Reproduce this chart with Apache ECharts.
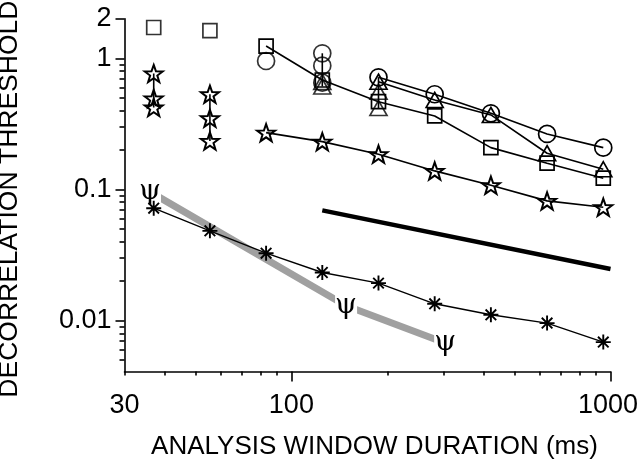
<!DOCTYPE html>
<html><head><meta charset="utf-8">
<script src="https://cdn.jsdelivr.net/npm/echarts@6/dist/echarts.min.js"></script>
<style>html,body{margin:0;padding:0;background:#fff}#c{width:640px;height:465px}</style>
</head><body><div id="c"></div>
<script>
// ---- data ----
const durations = [37.04, 55.56, 83.33, 125, 187.5, 281.25, 421.88, 632.81, 949.22];
const squaresSingleX = [37.04, 55.56];
const squaresSingleY = [1.717, 1.623];
const squaresLine = [1.24, 0.683, 0.467, 0.3636, 0.2085, 0.1586, 0.1219];      // 83 .. 949 ms
const circleCol3 = [0.954];
const circlesCol4 = [1.092, 0.878, 0.652];
const circlesLine = [0.7166, 0.532, 0.381, 0.265, 0.2085];                     // 187.5 .. 949 ms
const trianglesCol4 = [0.66, 0.61];
const trianglesCol5 = [0.5566, 0.418];
const trianglesLine = [0.663, 0.4814, 0.370, 0.189, 0.1427];                   // 187.5 .. 949 ms
const starsCol1 = [0.766, 0.494, 0.422];
const starsCol2 = [0.532, 0.349, 0.2345];
const starsLine = [0.2713, 0.2316, 0.1857, 0.1386, 0.1079, 0.0819, 0.0733];    // 83 .. 949 ms
const asterisks = [0.0720, 0.0484, 0.0327, 0.0233, 0.01934, 0.01345, 0.01109, 0.00959, 0.00687];
const psiX = [36.06, 148.4, 303.3];
const psiY = [0.0959, 0.01299, 0.00675];
const refLineX = [125, 1000];
const refLineY = [0.0693, 0.0248];
const xLabels = [30, 100, 1000];
const xMajorTicks = [100, 1000];
const xMinorTicks = [30, 40, 50, 60, 70, 80, 90, 200, 300, 400, 500, 600, 700, 800, 900];
const yLabels = [0.01, 0.1, 1, 2];
const yMajorTicks = [0.01, 0.1, 1, 2];
const yMinorTicks = [0.005, 0.006, 0.007, 0.008, 0.009, 0.02, 0.03, 0.04, 0.05, 0.06, 0.07, 0.08, 0.09,
                     0.2, 0.3, 0.4, 0.5, 0.6, 0.7, 0.8, 0.9];

// ---- helpers ----
const zip = (xs, ys) => xs.map((x, i) => [x, ys[i]]);
const at = (x, ys) => ys.map(y => [x, y]);
const STAR = 'path://M10 0 L12.35 6.76 L19.51 6.91 L13.8 11.24 L15.88 18.09 L10 14 L4.12 18.09 L6.2 11.24 L0.49 6.91 L7.65 6.76 Z';
const AST = 'path://M10 0 L10 20 M0 10 L20 10 M2.93 2.93 L17.07 17.07 M17.07 2.93 L2.93 17.07';
const hollow = { color: 'transparent', borderColor: '#000', borderWidth: 1.7 };
const starStyle = { color: 'transparent', borderColor: '#000', borderWidth: 2 };
const FONT = 'Liberation Sans';

function lineS(data, symbol, size, extra) {
  return Object.assign({
    type: 'line', data, symbol, symbolSize: size, symbolKeepAspect: true,
    showSymbol: symbol !== 'none', lineStyle: { color: '#000', width: 1.6 },
    itemStyle: hollow, z: 3, clip: false
  }, extra || {});
}
function scat(data, symbol, size) {
  return { type: 'scatter', data, symbol, symbolSize: size, symbolKeepAspect: true, itemStyle: hollow, z: 4, clip: false };
}

const chart = echarts.init(document.getElementById('c'), null, { renderer: 'canvas' });
chart.setOption({
  animation: false,
  backgroundColor: '#fff',
  grid: { left: 124.5, right: 29.5, top: 18.8, bottom: 93.5, containLabel: false, outerBoundsMode: 'none' },
  xAxis: [
    {
      type: 'log', logBase: 10, min: 30, max: 1000, position: 'bottom',
      axisLine: { lineStyle: { color: '#000', width: 1.6 } },
      axisTick: { show: true, customValues: xMajorTicks, length: 10, lineStyle: { color: '#000', width: 1.6 } },
      axisLabel: { customValues: xLabels, fontSize: 27, color: '#000', fontFamily: FONT, margin: 21,
        formatter: v => v === 1000 ? '{r|1000}' : String(v),
        rich: { r: { fontSize: 27, color: '#000', fontFamily: FONT, padding: [0, 5, 0, 0] } } },
      splitLine: { show: false },
      name: 'ANALYSIS WINDOW DURATION (ms)', nameLocation: 'middle', nameGap: 62,
      nameTextStyle: { fontSize: 26, color: '#000', fontFamily: FONT, padding: [0, 0, 0, 14] }
    },
    {
      type: 'log', logBase: 10, min: 30, max: 1000, position: 'bottom',
      axisLine: { show: false },
      axisTick: { show: true, customValues: xMinorTicks, length: 4, lineStyle: { color: '#000', width: 1.6 } },
      axisLabel: { show: false }, splitLine: { show: false }
    }
  ],
  yAxis: [
    {
      type: 'log', logBase: 10, min: 0.0041, max: 2, position: 'left',
      axisLine: { lineStyle: { color: '#000', width: 1.6 } },
      axisTick: { show: true, customValues: yMajorTicks, length: 9, lineStyle: { color: '#000', width: 1.6 } },
      axisLabel: { customValues: yLabels, fontSize: 27, color: '#000', fontFamily: FONT, margin: 13, formatter: v => String(v) },
      splitLine: { show: false },
      name: 'DECORRELATION THRESHOLD', nameLocation: 'middle', nameGap: 101, nameRotate: 90,
      nameTextStyle: { fontSize: 26.5, color: '#000', fontFamily: FONT, padding: [0, 8, 0, 0] }
    },
    {
      type: 'log', logBase: 10, min: 0.0041, max: 2, position: 'left',
      axisLine: { show: false },
      axisTick: { show: true, customValues: yMinorTicks, length: 5, lineStyle: { color: '#000', width: 1.6 } },
      axisLabel: { show: false }, splitLine: { show: false }
    }
  ],
  series: [
    { type: 'line', data: zip(psiX, psiY), z: 1, clip: false,
      lineStyle: { color: '#a0a0a0', width: 7 },
      symbol: 'rect', symbolSize: [22, 24], showSymbol: true, itemStyle: { color: '#fff', borderWidth: 0 },
      label: { show: true, position: 'inside', formatter: 'ψ', fontFamily: 'DejaVu Serif', fontSize: 28, color: '#000' } },
    lineS(zip(refLineX, refLineY), 'none', 0, { lineStyle: { color: '#000', width: 4.5 }, z: 2 }),
    lineS(zip(durations, asterisks), AST, 15, { lineStyle: { color: '#000', width: 1.4 },
      itemStyle: { color: 'transparent', borderColor: '#000', borderWidth: 1.9 } }),
    lineS(zip(durations.slice(2), starsLine), STAR, 18, { itemStyle: starStyle }),
    lineS(at(durations[0], starsCol1), STAR, 18, { itemStyle: starStyle }),
    lineS(at(durations[1], starsCol2), STAR, 18, { itemStyle: starStyle }),
    scat(zip(squaresSingleX, squaresSingleY), 'rect', 14),
    lineS(zip(durations.slice(2), squaresLine), 'rect', 14),
    scat(at(durations[2], circleCol3), 'circle', 17),
    lineS([[durations[3], circlesCol4[0]], [durations[3], trianglesCol4[1]]], 'none', 0),
    scat(at(durations[3], circlesCol4), 'circle', 17),
    scat(at(durations[3], trianglesCol4), 'triangle', [17, 15]),
    lineS([[durations[4], circlesLine[0]], [durations[4], trianglesCol5[1]]], 'none', 0),
    scat(at(durations[4], trianglesCol5), 'triangle', [17, 15]),
    lineS(zip(durations.slice(4), circlesLine), 'circle', 17),
    lineS(zip(durations.slice(4), trianglesLine), 'triangle', [17, 15])
  ]
});
</script></body></html>
